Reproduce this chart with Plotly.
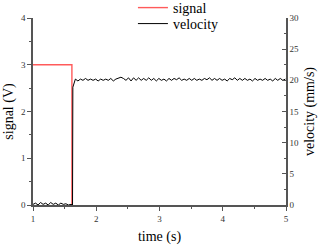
import numpy as np
import plotly.graph_objects as go

# signal step (V)
signal_t = [1.0, 1.615, 1.615]
signal_v = [3.0, 3.0, 0.0]

# velocity (mm/s)
vel_t_pre = [1.00, 1.04, 1.08, 1.12, 1.16, 1.20, 1.24, 1.28, 1.32, 1.36,
             1.40, 1.44, 1.48, 1.52, 1.56, 1.60, 1.625]
vel_pre = [0.1, 0.3, 0.0, 0.4, 0.1, 0.3, 0.0, 0.4, 0.1, 0.3, 0.0, 0.3, 0.1, 0.2, 0.0, 0.1, 0.0]
vel_t_post = np.round(np.linspace(1.63, 4.99, 85), 3)
vel_post = [18.9, 20.2, 19.9, 20.2, 20.0, 20.3, 20.0, 20.2, 20.0, 20.2,
            19.9, 20.2, 20.0, 20.2, 20.0, 20.3, 19.9, 20.2, 20.4, 20.5,
            20.3, 20.0, 20.4, 19.9, 20.4, 20.0, 20.4, 20.0, 20.3, 20.0,
            20.4, 20.0, 20.3, 19.9, 20.3, 20.0, 20.2, 19.9, 20.3, 20.0,
            20.3, 20.1, 20.4, 20.0, 20.2, 20.0, 20.3, 20.0, 20.3, 20.0,
            20.2, 20.0, 20.3, 20.1, 20.4, 20.0, 20.3, 20.0, 20.3, 20.0,
            20.2, 19.9, 20.3, 20.1, 20.4, 20.0, 20.3, 20.0, 20.3, 20.0,
            20.2, 19.9, 20.3, 20.0, 20.2, 20.0, 20.3, 20.0, 20.2, 19.9,
            20.3, 20.0, 20.3, 20.0, 20.2]
vel_time = list(vel_t_pre) + list(vel_t_post)
velocity = vel_pre + vel_post
assert len(velocity) == len(vel_time)

FONT = "Liberation Serif"
AXC = "#555555"

fig = go.Figure()
fig.add_trace(go.Scatter(x=vel_time, y=velocity, name="velocity", mode="lines",
                         line=dict(color="black", width=1), yaxis="y2", legend="legend2"))
fig.add_trace(go.Scatter(x=signal_t, y=signal_v, name="signal", mode="lines",
                         line=dict(color="#ff5a5a", width=1.4), legend="legend"))

common = dict(showgrid=False, zeroline=False, showline=True, linecolor=AXC, linewidth=1.5,
              tickcolor=AXC, tickfont=dict(family=FONT, size=9, color="#333"),
              ticklen=4, tickwidth=1)

leg = dict(x=0.395, xanchor="left", yanchor="middle",
           font=dict(family=FONT, size=14), bgcolor="rgba(0,0,0,0)", itemwidth=30)

fig.update_layout(
    width=320, height=246,
    margin=dict(l=33, r=34, t=18, b=41, autoexpand=False),
    paper_bgcolor="white", plot_bgcolor="white",
    font=dict(family=FONT, color="black"),
    showlegend=True,
    legend=dict(y=1.0535, **leg),
    legend2=dict(y=0.968, **leg),
    xaxis=dict(range=[1, 5], dtick=1, ticks="outside",
               minor=dict(dtick=0.5, ticks="outside", ticklen=2, tickcolor=AXC),
               title=dict(text="time (s)", font=dict(family=FONT, size=14), standoff=9),
               **common),
    yaxis=dict(range=[0, 4], dtick=1, ticks="outside",
               minor=dict(dtick=0.5, ticks="outside", ticklen=2, tickcolor=AXC),
               title=dict(text="signal (V)", font=dict(family=FONT, size=14), standoff=4),
               **common),
    yaxis2=dict(range=[0, 30], dtick=5, ticks="inside", overlaying="y", side="right",
                minor=dict(dtick=2.5, ticks="inside", ticklen=2, tickcolor=AXC),
                title=dict(text="velocity (mm/s)", font=dict(family=FONT, size=14), standoff=6),
                **common),
)

fig.write_html("out.html", config={"displayModeBar": False},
               post_script="document.body.style.margin='0px';document.body.style.overflow='hidden';")
